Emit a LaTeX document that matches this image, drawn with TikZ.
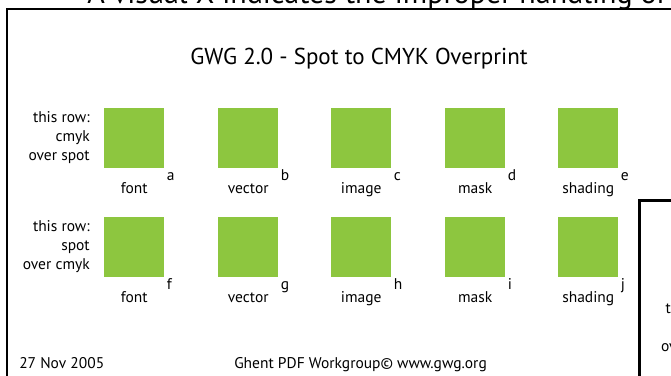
\documentclass[tikz,border=0pt]{standalone}
\usepackage{fontspec}
\setmainfont{PT Sans}
\definecolor{patchgreen}{RGB}{141,198,63}

\begin{document}
\begin{tikzpicture}[x=1pt, y=-1pt,
                    line width=2.5pt,
                    ]
    \tikzstyle{patch}=[fill=patchgreen, minimum size=60pt, inner sep=0pt, anchor=north west]
    \tikzstyle{letter}=[font=\fontsize{15.5}{17}\selectfont, inner sep=0pt, anchor=base west, yshift=-11pt]
    \tikzstyle{kind}=[font=\fontsize{15.5}{17}\selectfont, inner sep=0pt, anchor=base, yshift=-23.5pt]
    \tikzstyle{rowinfo}=[font=\fontsize{15.5}{19}\selectfont, inner sep=0pt, anchor=north east, align=right]
    \tikzstyle{footer}=[font=\fontsize{15.5}{17}\selectfont, inner sep=0pt, anchor=base west]

    \useasboundingbox (0,0) rectangle (671,375);
    \clip (0,0) rectangle (671,375);

    % cut off heading and frames of the page
    \node[font=\fontsize{30}{34}\selectfont, inner sep=0pt, anchor=base west] (heading) at (86,3)
        {A visual X indicates the improper handling of overprint};
    \draw (7,400) |- (700,9);
    \draw (639.5,400) |- (700,200.5);

    \node[font=\fontsize{23}{27}\selectfont, inner sep=0pt, anchor=base] (title) at (359,64)
        {GWG 2.0 - Spot to CMYK Overprint};

    % first row
    \node[rowinfo] (info1) at (91,110) {this row:\\cmyk\\over spot};
    \node[patch] (font1) at (103,107) {};
    \node[patch] (vector1) at (217,107) {};
    \node[patch] (image1) at (330,107) {};
    \node[patch] (mask1) at (444,107) {};
    \node[patch] (shading1) at (557,107) {};
    \node[letter] (a) at (font1.south east) {a};
    \node[letter] (b) at (vector1.south east) {b};
    \node[letter] (c) at (image1.south east) {c};
    \node[letter] (d) at (mask1.south east) {d};
    \node[letter] (e) at (shading1.south east) {e};
    \node[kind] at (font1.south) {font};
    \node[kind] at (vector1.south) {vector};
    \node[kind] at (image1.south) {image};
    \node[kind] at (mask1.south) {mask};
    \node[kind] at (shading1.south) {shading};

    % second row
    \node[rowinfo] (info2) at (91,219) {this row:\\spot\\over cmyk};
    \node[patch] (font2) at (103,216) {};
    \node[patch] (vector2) at (217,216) {};
    \node[patch] (image2) at (330,216) {};
    \node[patch] (mask2) at (444,216) {};
    \node[patch] (shading2) at (557,216) {};
    \node[letter] (f) at (font2.south east) {f};
    \node[letter] (g) at (vector2.south east) {g};
    \node[letter] (h) at (image2.south east) {h};
    \node[letter] (i) at (mask2.south east) {i};
    \node[letter] (j) at (shading2.south east) {j};
    \node[kind] at (font2.south) {font};
    \node[kind] at (vector2.south) {vector};
    \node[kind] at (image2.south) {image};
    \node[kind] at (mask2.south) {mask};
    \node[kind] at (shading2.south) {shading};

    % next panel, mostly outside
    \node[rowinfo] (info3) at (723.5,301.5) {this row:\\cmyk\\over spot};

    \node[footer] (date) at (18,368) {27 Nov 2005};
    \node[footer] (credit) at (233,368) {Ghent PDF Workgroup© www.gwg.org};
\end{tikzpicture}
\end{document}
